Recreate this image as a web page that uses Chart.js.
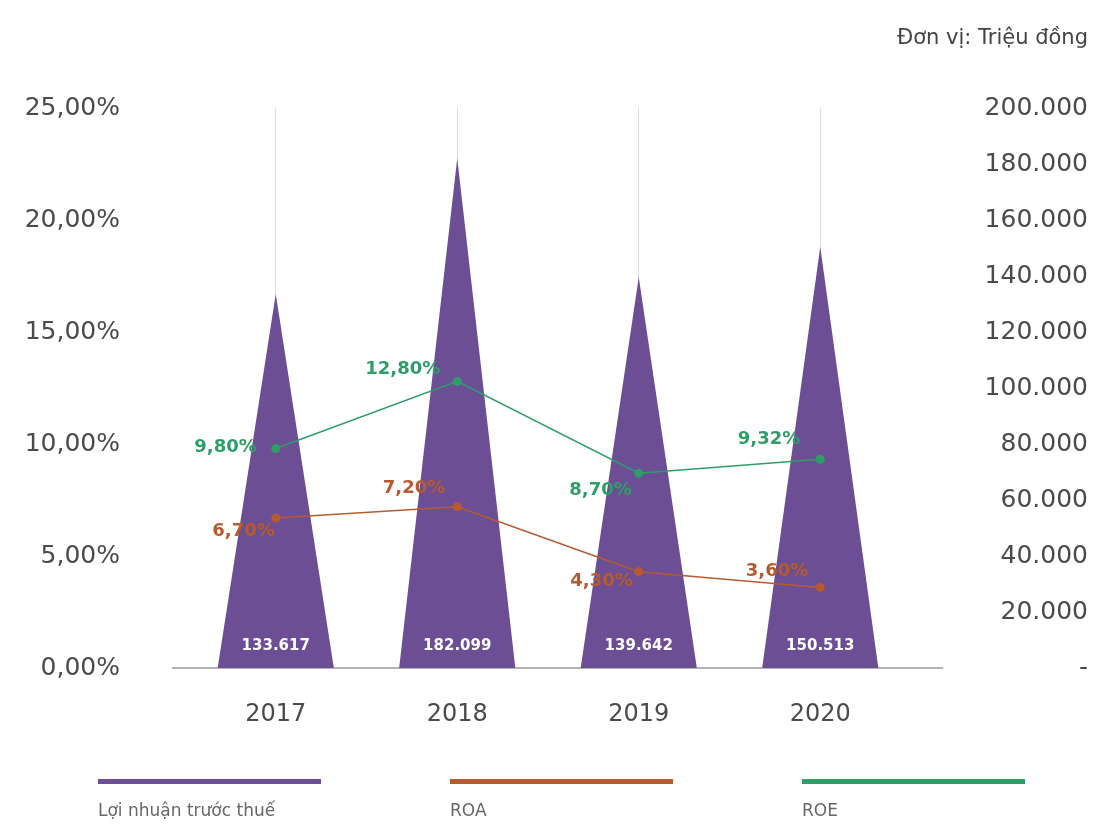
<!DOCTYPE html>
<html>
<head>
<meta charset="utf-8">
<script src="https://cdn.jsdelivr.net/npm/chart.js@4.4.1/dist/chart.umd.min.js"></script>
<style>
  body { margin: 0; background: #fff; }
  #wrap { position: relative; width: 1100px; height: 824px; }
  #legend { position: absolute; left: 0; top: 779px; width: 1100px; font-family: 'DejaVu Sans', sans-serif; }
  .legend-item { position: absolute; top: 0; width: 223px; }
  .legend-item .swatch { height: 5px; }
  .legend-item .text { margin-top: 16px; font-size: 17px; color: #666; white-space: nowrap; }
</style>
</head>
<body>
<div id="wrap">
  <canvas id="profit-chart" width="1100" height="824"></canvas>
  <div id="legend"></div>
</div>
<script>
// yearly figures
const years = ['2017', '2018', '2019', '2020'];
const profitBeforeTax = [133617, 182099, 139642, 150513];   // triệu đồng
const roa = [6.70, 7.20, 4.30, 3.60];                       // %
const roe = [9.80, 12.80, 8.70, 9.32];                      // %

const purple = '#6b4e94';
const orange = '#b65a2f';
const green = '#2e9e68';
const fontFamily = "'DejaVu Sans', sans-serif";

// where each percent label sits relative to its point [dx, dy], text is right aligned
const roaLabelOffsets = [[-1, 13], [-12, -18], [-6, 10], [-12, -16]];
const roeLabelOffsets = [[-19, -1], [-17, -12], [-7, 17], [-20, -20]];

Chart.defaults.font.family = fontFamily;

const ctx = document.getElementById('profit-chart').getContext('2d');

const fmtPercent = v => v.toFixed(2).replace('.', ',') + '%';
const fmtMoney = v => v.toLocaleString('de-DE');

// draws the bars as pyramids instead of rectangles
const pyramidBars = {
    id: 'pyramidBars',
    beforeDatasetDraw(chart, args) {
        const meta = args.meta;
        if (meta.type !== 'bar') return;
        const c = chart.ctx;
        c.save();
        c.fillStyle = chart.data.datasets[args.index].backgroundColor;
        meta.data.forEach(bar => {
            const half = bar.width / 2;
            c.beginPath();
            c.moveTo(bar.x - half, bar.base);
            c.lineTo(bar.x, bar.y);
            c.lineTo(bar.x + half, bar.base);
            c.closePath();
            c.fill();
        });
        c.restore();
        return false;
    }
};

// gray zero line running a bit past the plot area
const baseline = {
    id: 'baseline',
    beforeDatasetsDraw(chart) {
        const c = chart.ctx;
        const y = chart.scales.y.getPixelForValue(0);
        c.save();
        c.strokeStyle = '#9a9a9a';
        c.lineWidth = 1.5;
        c.beginPath();
        c.moveTo(chart.chartArea.left - 13, y);
        c.lineTo(chart.chartArea.right + 32, y);
        c.stroke();
        c.restore();
    }
};

// value labels: white numbers at the foot of each pyramid, colored percents next to points
const valueLabels = {
    id: 'valueLabels',
    afterDatasetsDraw(chart) {
        const c = chart.ctx;
        c.save();
        chart.data.datasets.forEach((ds, i) => {
            const meta = chart.getDatasetMeta(i);
            if (meta.type === 'bar') {
                c.fillStyle = '#ffffff';
                c.font = `bold 15px ${fontFamily}`;
                c.textAlign = 'center';
                c.textBaseline = 'middle';
                meta.data.forEach((bar, j) => {
                    c.fillText(fmtMoney(ds.data[j]), bar.x, bar.base - 22);
                });
            } else {
                const offsets = ds.label === 'ROA' ? roaLabelOffsets : roeLabelOffsets;
                c.fillStyle = ds.borderColor;
                c.font = `bold 18px ${fontFamily}`;
                c.textAlign = 'right';
                c.textBaseline = 'middle';
                meta.data.forEach((pt, j) => {
                    const [dx, dy] = offsets[j];
                    c.fillText(fmtPercent(ds.data[j]), pt.x + dx, pt.y + dy);
                });
            }
        });
        c.restore();
    }
};

const tickFont = { size: 25 };
const tickColor = '#4a4a4a';

const chart = new Chart(ctx, {
    data: {
        labels: years,
        datasets: [
            {
                type: 'bar',
                label: 'Lợi nhuận trước thuế',
                data: profitBeforeTax,
                yAxisID: 'y1',
                backgroundColor: purple,
                categoryPercentage: 1,
                barPercentage: 0.64,
                order: 3
            },
            {
                type: 'line',
                label: 'ROA',
                data: roa,
                yAxisID: 'y',
                borderColor: orange,
                backgroundColor: orange,
                borderWidth: 1.5,
                pointRadius: 4.5,
                pointBorderWidth: 0,
                tension: 0,
                order: 2
            },
            {
                type: 'line',
                label: 'ROE',
                data: roe,
                yAxisID: 'y',
                borderColor: green,
                backgroundColor: green,
                borderWidth: 1.5,
                pointRadius: 4.5,
                pointBorderWidth: 0,
                tension: 0,
                order: 1
            }
        ]
    },
    options: {
        responsive: false,
        animation: false,
        layout: { padding: { left: 0, right: 12, top: 0, bottom: 0 } },
        plugins: {
            legend: { display: false },
            tooltip: { enabled: false },
            title: {
                display: true,
                text: 'Đơn vị: Triệu đồng',
                align: 'end',
                color: '#444',
                font: { size: 21, weight: 'normal' },
                padding: { top: 26, bottom: 57 }
            }
        },
        scales: {
            x: {
                grid: { offset: false, color: '#dcdcdc', drawTicks: false },
                border: { display: false },
                ticks: { color: tickColor, font: { size: 24 }, padding: 32 },
                afterFit(scale) { scale.height = 156; }
            },
            y: {
                position: 'left',
                min: 0,
                max: 25,
                grid: { display: false, drawTicks: false },
                border: { display: false },
                ticks: {
                    stepSize: 5,
                    padding: 65,
                    color: tickColor,
                    font: tickFont,
                    callback: v => fmtPercent(v)
                },
                afterFit(scale) { scale.width = 185; }
            },
            y1: {
                position: 'right',
                min: 0,
                max: 200000,
                grid: { display: false, drawTicks: false },
                border: { display: false },
                ticks: {
                    stepSize: 20000,
                    crossAlign: 'far',
                    color: tickColor,
                    font: tickFont,
                    callback: v => v === 0 ? '-' : fmtMoney(v)
                },
                afterFit(scale) { scale.width = 177; }
            }
        }
    },
    plugins: [baseline, pyramidBars, valueLabels]
});

// legend: thick swatch with the name underneath
const legendBox = document.getElementById('legend');
chart.data.datasets.forEach((ds, i) => {
    const item = document.createElement('div');
    item.className = 'legend-item';
    item.style.left = (98 + i * 352) + 'px';
    const swatch = document.createElement('div');
    swatch.className = 'swatch';
    swatch.style.background = ds.type === 'bar' ? ds.backgroundColor : ds.borderColor;
    const text = document.createElement('div');
    text.className = 'text';
    text.textContent = ds.label;
    item.append(swatch, text);
    legendBox.append(item);
});
</script>
</body>
</html>
